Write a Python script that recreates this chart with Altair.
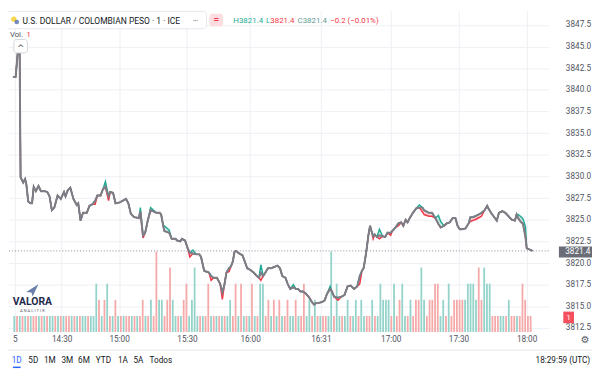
import altair as alt
import pandas as pd

# ---------------- data ----------------
# bar-slot position of each close reading, and the close price
close_b = [-0.5, 0.5, 1.25, 1.95, 2.3, 3.25, 3.95, 4.4, 5.1, 5.9,
           6.5, 7.1, 7.9, 8.85, 9.75, 11.2, 12.1, 12.9, 13.75, 14.65,
           15.85, 17.0, 18.2, 18.75, 19.55, 20.5, 21.65, 22.85, 23.4, 24.25,
           25.15, 26.55, 27.5, 28.65, 29.6, 30.4, 31.6, 32.4, 33.35, 34.5,
           35.1, 36.15, 37.05, 38.6, 39.75, 40.9, 41.75, 42.65, 43.85, 45.6,
           46.15, 47.1, 47.9, 48.85, 49.9, 52.0, 53.2, 53.75, 54.45, 54.9,
           56.7, 57.6, 59.0, 59.6, 60.75, 61.35, 62.5, 63.45, 64.25, 65.4,
           66.6, 67.75, 68.35, 69.5, 70.45, 71.25, 72.05, 73.0, 74.15, 75.35,
           76.15, 76.85, 77.65, 78.6, 79.3, 80.0, 80.6, 81.15, 82.35, 83.5,
           84.1, 85.25, 86.4, 87.6, 88.75, 89.55, 90.25, 91.1, 91.9, 92.85,
           94.0, 96.35, 97.25, 98.1, 99.25, 100.05, 101.0, 102.15, 103.1, 103.9,
           104.75, 105.65, 106.6, 107.75, 109.15, 109.75, 110.55, 111.5, 112.65, 113.6,
           114.4, 115.6, 116.15, 117.1, 118.5, 119.65, 120.85, 122.0, 123.15, 124.35,
           125.5, 126.45, 127.25, 127.85, 128.4, 129.0, 129.6, 130.2, 130.75, 131.35,
           131.9, 132.75, 133.65, 134.85, 135.75, 136.6, 137.75, 138.35, 139.5, 140.65,
           141.6, 142.4, 143.25, 143.95, 144.75, 145.9, 147.1, 148.25, 149.4, 150.0,
           151.75, 152.9, 154.1, 155.25, 156.05, 157.25, 158.4, 159.35, 160.5, 161.45,
           162.25, 163.05, 164.0, 165.15, 166.35, 166.9, 167.75, 168.65, 169.85, 171.0,
           172.15, 173.1, 173.55, 174.5, 175.65, 176.6, 177.4, 178.6, 179.75, 180.9,
           182.1, 183.25, 183.85, 184.4, 185.25, 186.2, 187.1, 187.55, 188.25, 189.1,
           189.65]
close_p = [3841.5, 3841.5, 3844.3, 3844.5, 3829.9, 3829.3, 3829.7, 3829.1, 3827.1, 3826.9,
           3826.9, 3828.8, 3828.3, 3828.9, 3828.3, 3828.3, 3828.2, 3827.7, 3826.1, 3826.4,
           3827.8, 3827.4, 3828.2, 3827.7, 3828.4, 3828.7, 3827.4, 3826.7, 3826.9, 3824.9,
           3825.8, 3825.8, 3826.6, 3826.8, 3827.2, 3827.8, 3827.8, 3828.5, 3828.8, 3827.7,
           3828.2, 3828.1, 3826.9, 3827.0, 3827.2, 3827.4, 3826.9, 3825.7, 3825.3, 3825.2,
           3825.9, 3823.2, 3823.5, 3824.9, 3826.1, 3825.8, 3825.8, 3825.6, 3824.4, 3823.7,
           3823.5, 3822.8, 3822.8, 3822.6, 3822.5, 3822.8, 3822.6, 3821.7, 3821.2, 3821.1,
           3821.0, 3821.0, 3820.7, 3819.1, 3819.0, 3818.9, 3818.5, 3818.3, 3818.3, 3817.6,
           3816.6, 3817.4, 3818.9, 3819.4, 3819.6, 3820.2, 3821.3, 3821.4, 3821.1, 3820.9,
           3820.4, 3819.4, 3819.2, 3818.9, 3818.5, 3818.3, 3818.9, 3818.5, 3818.9, 3819.4,
           3819.4, 3819.7, 3819.4, 3818.5, 3818.3, 3817.6, 3817.0, 3817.2, 3817.0, 3817.0,
           3816.7, 3816.7, 3816.5, 3816.1, 3815.4, 3815.2, 3815.4, 3815.4, 3815.5, 3815.7,
           3816.4, 3817.0, 3816.8, 3816.1, 3816.0, 3816.1, 3816.3, 3817.3, 3817.4, 3817.0,
           3817.3, 3818.5, 3819.1, 3819.4, 3820.4, 3821.7, 3823.2, 3824.3, 3823.7, 3823.1,
           3823.3, 3823.0, 3823.2, 3823.1, 3823.0, 3823.5, 3823.5, 3823.7, 3824.1, 3824.6,
           3824.7, 3824.3, 3825.0, 3824.7, 3825.2, 3825.8, 3826.3, 3826.4, 3826.4, 3826.1,
           3825.8, 3825.8, 3825.2, 3824.5, 3824.1, 3824.3, 3824.6, 3824.7, 3825.2, 3825.2,
           3824.3, 3823.9, 3823.9, 3824.0, 3824.6, 3825.3, 3825.3, 3825.4, 3825.6, 3825.8,
           3826.1, 3826.6, 3826.3, 3825.8, 3825.3, 3824.9, 3825.8, 3826.0, 3825.8, 3825.4,
           3825.0, 3824.9, 3825.6, 3825.2, 3824.8, 3824.5, 3823.0, 3821.7, 3821.6, 3821.5,
           3821.4]
# points where the high / low differ from the close
hi_idx = [38, 50, 54, 59, 60, 69, 96, 107, 121, 142, 157, 163, 164, 193, 194, 195, 196]
hi_val = [3829.4, 3826.4, 3826.4, 3824.3, 3823.8, 3821.5, 3819.8, 3817.5, 3817.3, 3823.9,
          3826.7, 3825.5, 3824.8, 3825.6, 3825.4, 3825.1, 3824.2]
lo_idx = [34, 39, 51, 68, 76, 80, 83, 96, 124, 131, 139, 142, 146, 149, 158, 159, 160, 161,
          175, 176, 177, 178, 179]
lo_val = [3826.8, 3827.2, 3822.9, 3820.7, 3818.0, 3815.8, 3819.0, 3818.0, 3815.7, 3817.6,
          3822.8, 3822.8, 3823.2, 3824.3, 3825.9, 3825.6, 3825.4, 3825.4,
          3824.8, 3824.9, 3825.0, 3825.2, 3825.4]

# volume per bar (190 bars) and bar direction (1 = up / teal, 0 = down / red)
vol = [1, 1, 1, 1, 1, 1, 1, 1, 1, 1,
       1, 1, 1, 1, 1, 1, 1, 1, 1, 1,
       1, 1, 1, 1, 1, 1, 1, 1, 1, 1,
       3, 2, 1, 2, 3, 1, 1, 2, 1, 1,
       1, 1, 1, 1, 1, 1, 1, 2, 1, 1,
       2, 1, 5, 2, 2, 1, 2, 4, 2, 1,
       1, 1, 2, 3, 1, 2, 4, 1, 1, 1,
       1, 3, 1, 1, 1, 1, 1, 1, 1, 2,
       1, 3, 1, 3, 1, 1, 1, 3, 1, 1,
       3, 3, 1, 2, 1, 2, 1, 2, 1, 1,
       2, 1, 1, 2, 1, 1, 3, 1, 2, 1,
       2, 1, 1, 1, 1, 1, 5, 1, 3, 1,
       1, 1, 2, 1, 1, 2, 1, 2, 1, 1,
       1, 2, 1, 1, 3, 2, 2, 2, 1, 3,
       1, 2, 3, 1, 1, 2, 1, 2, 2, 4,
       2, 1, 2, 2, 3, 3, 1, 2, 1, 3,
       1, 2, 2, 2, 2, 2, 3, 3, 3, 2,
       4, 2, 4, 3, 3, 1, 1, 1, 1, 1,
       1, 2, 1, 1, 1, 1, 3, 2, 1, 1]
up = [1, 0, 1, 0, 1, 0, 1, 0, 0, 1,
      0, 1, 0, 1, 1, 0, 1, 0, 1, 0,
      0, 1, 0, 1, 0, 1, 1, 0, 1, 1,
      1, 0, 1, 0, 1, 0, 1, 0, 1, 0,
      1, 0, 0, 1, 0, 1, 0, 0, 1, 0,
      1, 0, 0, 1, 1, 0, 0, 0, 1, 1,
      0, 1, 0, 0, 1, 1, 1, 1, 0, 1,
      0, 0, 1, 0, 1, 0, 1, 0, 1, 1,
      0, 0, 1, 0, 1, 0, 1, 0, 1, 0,
      1, 1, 0, 0, 1, 0, 1, 0, 1, 0,
      0, 1, 1, 0, 1, 0, 0, 1, 1, 0,
      1, 0, 1, 0, 0, 1, 1, 0, 1, 1,
      0, 1, 1, 0, 1, 1, 0, 1, 1, 0,
      0, 1, 0, 1, 1, 1, 1, 1, 0, 1,
      0, 0, 1, 1, 0, 1, 0, 0, 0, 1,
      1, 0, 0, 0, 0, 0, 1, 1, 0, 1,
      0, 0, 0, 0, 0, 1, 1, 1, 1, 1,
      0, 0, 1, 1, 1, 0, 0, 0, 1, 1,
      0, 1, 0, 0, 1, 0, 0, 0, 0, 0]

y_ticks = [3812.5, 3815.0, 3817.5, 3820.0, 3822.5, 3825.0, 3827.5, 3830.0,
           3832.5, 3835.0, 3837.5, 3840.0, 3842.5, 3845.0, 3847.5]
x_tick_vals = [0.2, 17.35, 38.35, 63.2, 86.3, 112.2, 137.8, 162.6, 187.5]
x_tick_lbls = ["5", "14:30", "15:00", "15:30", "16:00", "16:31", "17:00", "17:30", "18:00"]
last_price = 3821.4
last_vol = "1"
title_txt = "U.S. DOLLAR / COLOMBIAN PESO \u00b7 1 \u00b7 ICE"
ranges = ["1D", "5D", "1M", "3M", "6M", "YTD", "1A", "5A", "Todos"]
clock_txt = "18:29:59 (UTC)"

# ---------------- layout helpers ----------------
SX = 592 / 600
SY = 363 / 371
W, H = 548, 326
FONT = "Roboto"
TXT = "#131722"
AX = "#50535e"
TEAL = "#22ab94"
RED = "#f23645"

high = list(close_p)
for i, v in zip(hi_idx, hi_val):
    high[i] = v
low = list(close_p)
for i, v in zip(lo_idx, lo_val):
    low[i] = v

line_df = pd.DataFrame({"b": close_b, "close": close_p, "high": high, "low": low})
vol_df = pd.DataFrame({"b": list(range(len(vol))), "vol": vol,
                       "dir": ["up" if u else "down" for u in up]})

xscale = alt.Scale(domain=[-0.5, 193.76], nice=False, zero=False)
yscale = alt.Scale(domain=[3812.03, 3849.17], nice=False, zero=False)
vscale = alt.Scale(domain=[0, 19.95], nice=False, zero=False)

expr = " : ".join(f"abs(datum.value - {v}) < 0.01 ? '{l}'" for v, l in zip(x_tick_vals, x_tick_lbls)) + " : ''"
xaxis = alt.Axis(values=x_tick_vals, labelExpr=expr, title=None, domain=False, ticks=False,
                 grid=True, gridColor="#eef0f4", labelFontSize=8.3, labelColor=AX,
                 labelPadding=3, labelFlush=False, labelOverlap=False, labelFont=FONT)
yaxis = alt.Axis(values=y_ticks, format=".1f", orient="right", title=None, domain=False,
                 ticks=False, grid=True, gridColor="#eef0f4", labelFontSize=8.3,
                 labelColor=AX, labelPadding=17, labelFont=FONT, labelOverlap=False,
                 labelFlush=False)
X = alt.X("b:Q", scale=xscale, axis=xaxis)

bars = alt.Chart(vol_df).mark_bar(size=1.8, clip=True).encode(
    x=X,
    y=alt.Y("vol:Q", scale=vscale, axis=None),
    color=alt.Color("dir:N", scale=alt.Scale(domain=["up", "down"], range=["#93d3c9", "#f6a9a9"]), legend=None),
)

base = alt.Chart(line_df)
area_hi = base.mark_area(color=TEAL, opacity=0.22, clip=True).encode(
    x=X, y=alt.Y("close:Q", scale=yscale, axis=yaxis), y2="high:Q")
area_lo = base.mark_area(color=RED, opacity=0.22, clip=True).encode(
    x=X, y=alt.Y("low:Q", scale=yscale, axis=yaxis), y2="close:Q")
line_hi = base.mark_line(color=TEAL, strokeWidth=1.5, clip=True).encode(
    x=X, y=alt.Y("high:Q", scale=yscale, axis=yaxis))
line_lo = base.mark_line(color=RED, strokeWidth=1.5, clip=True).encode(
    x=X, y=alt.Y("low:Q", scale=yscale, axis=yaxis))
line_close = base.mark_line(color="#7b7e87", strokeWidth=2, clip=True).encode(
    x=X, y=alt.Y("close:Q", scale=yscale, axis=yaxis))
price_rule = alt.Chart(pd.DataFrame({"p": [last_price]})).mark_rule(
    strokeDash=[1, 2], color="#8a8d96", strokeWidth=1).encode(
    y=alt.Y("p:Q", scale=yscale, axis=yaxis))

price = alt.layer(area_hi, area_lo, line_hi, line_lo, line_close, price_rule)

ONE = pd.DataFrame({"a": [0]})


def txt(s, x, y, size=8.3, color=TXT, align="left", weight="normal", font=FONT):
    return alt.Chart(pd.DataFrame({"t": [s]})).mark_text(
        align=align, baseline="middle", fontSize=size, color=color, font=font,
        fontWeight=weight).encode(text="t:N", x=alt.value(x * SX), y=alt.value(y * SY))


def box(x1, x2, y1, y2, fill, stroke=None, radius=0):
    kw = dict(fill=fill, cornerRadius=radius)
    if stroke:
        kw["stroke"] = stroke
        kw["strokeWidth"] = 1
    return alt.Chart(ONE).mark_rect(**kw).encode(
        x=alt.value(x1 * SX), x2=alt.value(x2 * SX), y=alt.value(y1 * SY), y2=alt.value(y2 * SY))


decor = []
# header
decor.append(box(-1, 204, 1, 19, "white", "#e6e8ee", 3))
decor.append(alt.Chart(ONE).mark_point(shape="circle", filled=True, size=30, color="#f7c600").encode(
    x=alt.value(6 * SX), y=alt.value(9 * SY)))
decor.append(alt.Chart(ONE).mark_point(shape="circle", filled=True, size=22, color="#3b5aa5").encode(
    x=alt.value(9 * SX), y=alt.value(12 * SY)))
decor.append(txt(title_txt, 15, 10.5, size=8.6))
decor.append(txt("\u2022\u2022\u2022", 190, 10.5, size=5, color="#787b86"))
decor.append(box(207, 221, 3.5, 16.5, "#fcdde2", None, 3))
decor.append(txt("=", 214, 10, size=10, color=RED, align="center", weight="bold"))
decor.append(txt("H3821.4", 231.5, 10.5, size=8, color=TEAL))
decor.append(txt("L", 265, 10.5, size=8, color=TEAL))
decor.append(txt("3821.4", 269.5, 10.5, size=8, color=RED))
decor.append(txt("C3821.4", 297.5, 10.5, size=8, color="#5e9c91"))
decor.append(txt("\u22120.2 (\u22120.01%)", 331, 10.5, size=8, color=RED))
decor.append(txt("Vol.", 2, 25, size=7.8, color="#50535e"))
decor.append(txt(last_vol, 19, 25, size=7.8, color=RED))
decor.append(box(6, 20, 30, 44, "white", "#d1d4dc", 3))
decor.append(txt("^", 13, 38.5, size=9, color="#50535e", align="center", font="DejaVu Sans"))
# logo
decor.append(alt.Chart(ONE).mark_point(
    shape="M 1 -1 L -1 0.25 L -0.15 0.35 L 0.05 1 Z", filled=True, size=150, color="#2b4a88").encode(
    x=alt.value(25 * SX), y=alt.value(290 * SY)))
decor.append(txt("VALORA", 25, 302, size=10.5, color="#1f2b4d", align="center", weight="bold"))
decor.append(txt("A N A L I T I K", 25, 311.5, size=4.2, color="#5d606b", align="center"))
# price-scale labels
decor.append(box(566, 600, 244.5, 256, "#6a6d78"))
decor.append(txt(f"{last_price:.1f}", 572.5, 250.3, color="white"))
decor.append(box(570.5, 581.5, 312, 324, "#f4505d"))
decor.append(txt(last_vol, 576, 318.2, size=7.5, color="white", align="center"))
decor.append(txt("\u2699", 593, 341, size=10, color="#5d606b", align="center", font="DejaVu Sans"))
# bottom toolbar
decor.append(alt.Chart(ONE).mark_rule(color="#e6e8ee").encode(
    x=alt.value(0), x2=alt.value(600 * SX), y=alt.value(352 * SY)))
centers = [9, 26, 43, 61, 78, 98, 118, 134, 157]
for lbl, cx in zip(ranges, centers):
    decor.append(txt(lbl, cx, 363, color="#2962ff" if lbl == "1D" else TXT, align="center"))
decor.append(box(5, 13, 369, 370.5, "#2962ff"))
decor.append(txt(clock_txt, 598, 363, align="right"))

chart = alt.layer(bars, price, *decor).resolve_scale(y="independent").properties(
    width=W, height=H,
    padding={"left": 0, "top": 0, "right": 592 - W, "bottom": 363 - H},
    autosize=alt.AutoSizeParams(type="none"),
    background="white",
).configure_view(stroke=None)

chart.save("out.html", embed_options={"renderer": "svg", "actions": False})
